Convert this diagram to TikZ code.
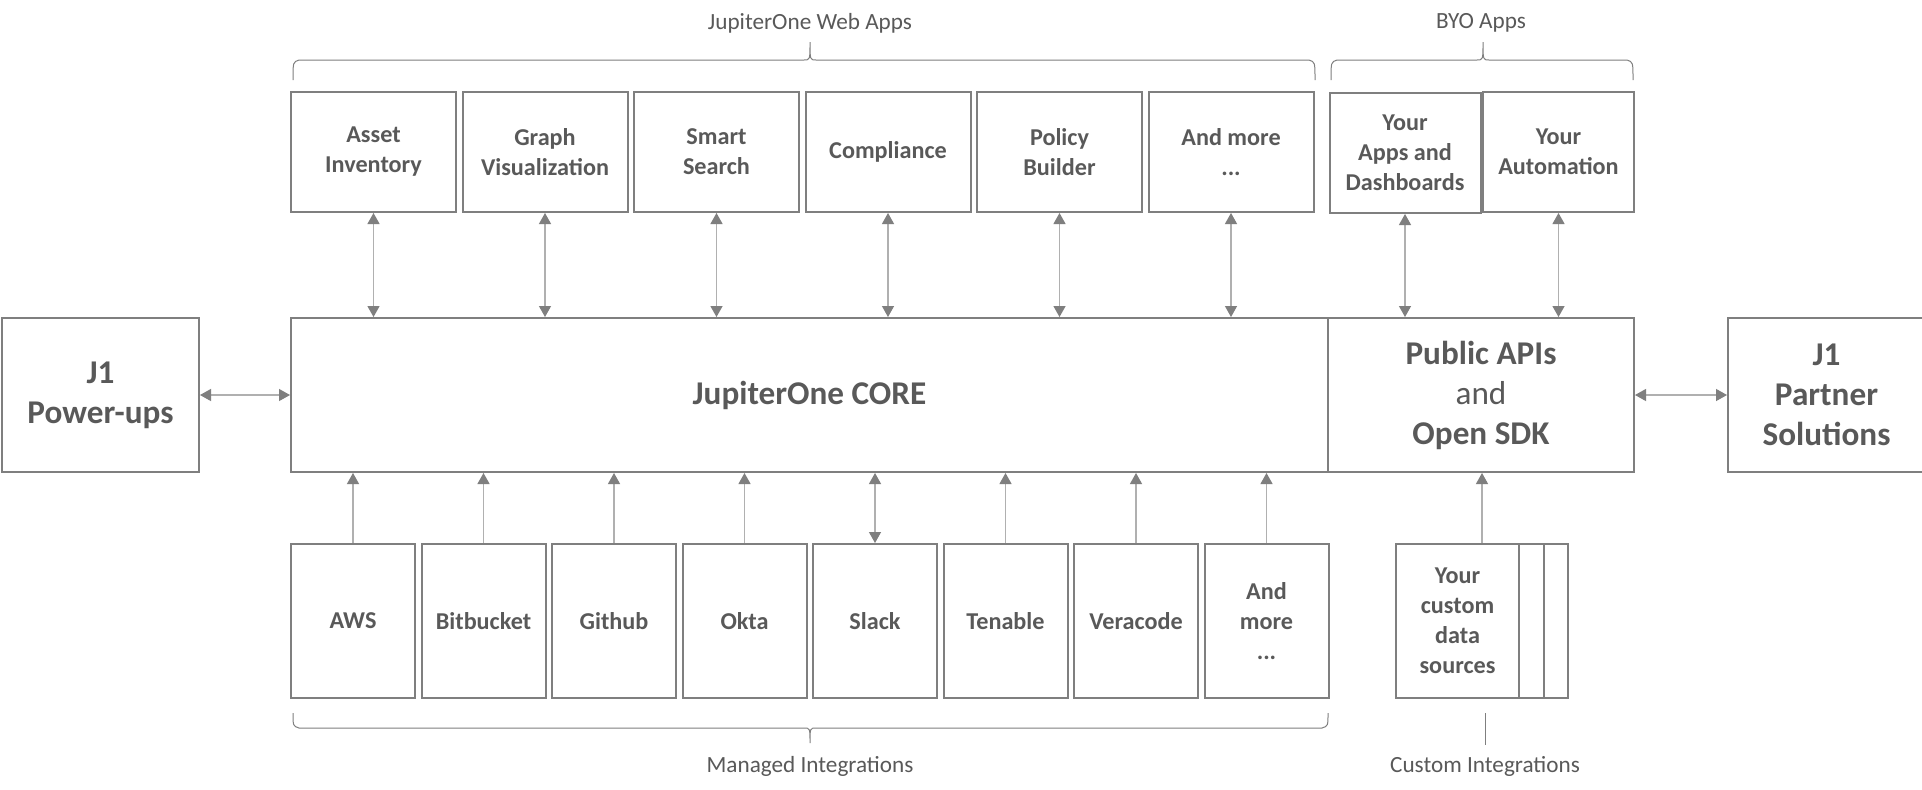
\documentclass[tikz,border=0pt]{standalone}
\usepackage{fontspec}
\setmainfont{Carlito}
\usetikzlibrary{arrows.meta}

\definecolor{boxgray}{HTML}{7F7F7F}
\definecolor{textgray}{HTML}{595959}
\definecolor{linegray}{HTML}{B0B0B0}

\tikzset{
  box/.style={draw=boxgray, line width=1pt, fill=white, align=center, text=textgray,
    inner sep=0pt, font=\bfseries\fontsize{12.1}{15}\selectfont},
  appbox/.style={box, minimum width=82.5pt, minimum height=60pt},
  byobox/.style={box, minimum width=75.5pt, minimum height=60pt},
  srcbox/.style={box, minimum width=62pt, minimum height=77pt},
  bigbox/.style={box, minimum height=77pt, font=\bfseries\fontsize{16.6}{20}\selectfont},
  link/.style={draw=linegray, line width=0.6pt,
    {Triangle[length=5.5pt,width=6pt,color=boxgray]}-{Triangle[length=5.5pt,width=6pt,color=boxgray]}},
  feed/.style={draw=linegray, line width=0.6pt, -{Triangle[length=5.5pt,width=6pt,color=boxgray]}},
  brace/.style={draw=boxgray, line width=0.5pt},
  grouplabel/.style={text=textgray, font=\fontsize{11.6}{14}\selectfont}
}

\begin{document}
\begin{tikzpicture}[x=0.5pt, y=-0.5pt]
      % Page with the margins of the picture
      \path[use as bounding box, fill=white] (0,0) rectangle (1922,789);

      % Middle row
      \node[bigbox, minimum width=98.5pt] (power) at (100.5,395) {J1\\Power-ups};
      \node[bigbox, minimum width=518.5pt] (core) at (809.5,395) {JupiterOne CORE};
      \node[bigbox, minimum width=153pt] (apis) at (1481,395)
          {Public APIs\\{\mdseries and}\\Open SDK};
      \node[bigbox, minimum width=98.5pt] (partner) at (1826.5,395) {J1\\Partner\\Solutions};

      \draw[link] (power) -- (core);
      \draw[link] (apis) -- (partner);

      % JupiterOne web apps
      \foreach \name/\x/\txt in {asset/373.5/{Asset\\Inventory}, graph/545/{Graph\\Visualization},
          smart/716.5/{Smart\\Search}, compliance/888/Compliance,
          policy/1059.5/{Policy\\Builder}, moreapps/1231/{And more\\...}} {
          \node[appbox] (\name) at (\x,152) {\txt};
          \draw[link] (\name.south) -- (\name.south |- core.north);
      }

      % BYO apps
      \node[byobox] (yourapps) at (1405,153) {Your\\Apps and\\Dashboards};
      \node[byobox] (yourauto) at (1558.5,152) {Your\\Automation};
      \draw[link] (yourapps.south) -- (yourapps.south |- apis.north);
      \draw[link] (yourauto.south) -- (yourauto.south |- apis.north);

      % Managed integrations
      \foreach \name/\x/\txt/\kind in {aws/353/AWS/feed, bitbucket/483.5/Bitbucket/feed,
          github/614/Github/feed, okta/744.5/Okta/feed, slack/875/Slack/link,
          tenable/1005.5/Tenable/feed, veracode/1136/Veracode/feed,
          moresrc/1266.5/{And\\more\\...}/feed} {
          \node[srcbox] (\name) at (\x,621) {\txt};
          \draw[\kind] (\name.north) -- (\name.north |- core.south);
      }

      % Custom data sources, stacked
      \node[box, minimum width=86pt, minimum height=77pt] (stack) at (1482,621) {};
      \draw[boxgray, line width=1pt] (1519,544) -- (1519,698);
      \draw[boxgray, line width=1pt] (1544,544) -- (1544,698);
      \node[align=center, text=textgray, font=\bfseries\fontsize{12.1}{15}\selectfont]
          (custom) at (1457.5,621) {Your\\custom\\data\\sources};
      \draw[feed] (stack.north) -- (stack.north |- apis.south);

      % Braces and group labels
      \draw[brace] (293,80) .. controls (293,62) .. (299,60) -- (804,60)
          .. controls (810,60) .. (810,42) .. controls (810,60) .. (816,60)
          -- (1309,60) .. controls (1315,62) .. (1315,80);
      \draw[brace] (1331,80) .. controls (1331,62) .. (1337,60) -- (1477,60)
          .. controls (1483,60) .. (1483,42) .. controls (1483,60) .. (1489,60)
          -- (1627,60) .. controls (1633,62) .. (1633,80);
      \draw[brace] (293,713) .. controls (293,726) .. (299,728) -- (804,728)
          .. controls (810,728) .. (810,743) .. controls (810,728) .. (816,728)
          -- (1322,728) .. controls (1328,726) .. (1328,713);
      \draw[brace] (1485,713) -- (1485,745);

      \node[grouplabel] (webapps) at (810,23) {JupiterOne Web Apps};
      \node[grouplabel] (byoapps) at (1481,23) {BYO Apps};
      \node[grouplabel] (managed) at (810,766) {Managed Integrations};
      \node[grouplabel] (customint) at (1485,766) {Custom Integrations};
\end{tikzpicture}
\end{document}
